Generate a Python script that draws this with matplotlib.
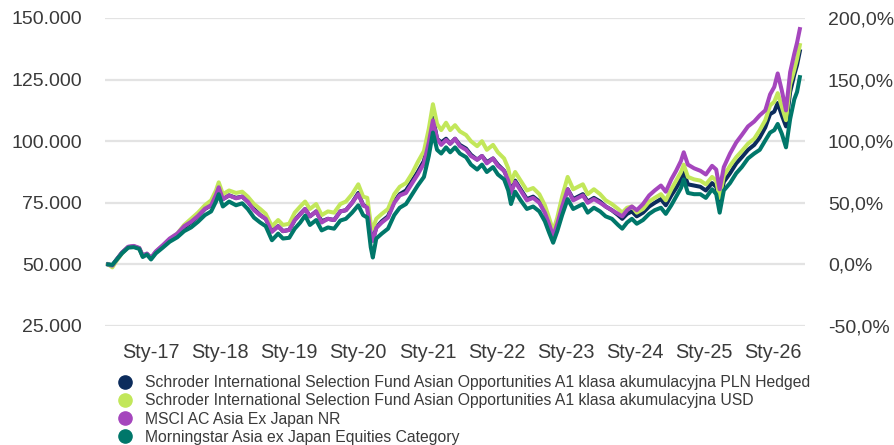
import matplotlib
matplotlib.use("Agg")
import matplotlib.pyplot as plt
from matplotlib.lines import Line2D
from matplotlib.ticker import FuncFormatter

# ---- data ----
years = [2016.38, 2016.44, 2016.49, 2016.58, 2016.67, 2016.75, 2016.83, 2016.88, 2016.94, 2017.00,
         2017.07, 2017.17, 2017.27, 2017.38, 2017.48, 2017.58, 2017.68, 2017.78, 2017.87, 2017.94,
         2017.98, 2018.04, 2018.13, 2018.23, 2018.32, 2018.40, 2018.49, 2018.58, 2018.66, 2018.75,
         2018.84, 2018.91, 2019.00, 2019.08, 2019.16, 2019.23, 2019.30, 2019.39, 2019.47, 2019.56,
         2019.65, 2019.74, 2019.82, 2019.91, 2020.00, 2020.07, 2020.13, 2020.18, 2020.21, 2020.26,
         2020.34, 2020.43, 2020.52, 2020.60, 2020.69, 2020.78, 2020.86, 2020.95, 2021.02, 2021.08,
         2021.14, 2021.20, 2021.27, 2021.33, 2021.40, 2021.47, 2021.56, 2021.63, 2021.72, 2021.79,
         2021.86, 2021.95, 2022.02, 2022.11, 2022.17, 2022.21, 2022.27, 2022.35, 2022.44, 2022.53,
         2022.62, 2022.70, 2022.76, 2022.82, 2022.88, 2022.95, 2023.03, 2023.11, 2023.18, 2023.25,
         2023.32, 2023.41, 2023.50, 2023.58, 2023.67, 2023.76, 2023.82, 2023.89, 2023.96, 2024.03,
         2024.12, 2024.21, 2024.29, 2024.38, 2024.45, 2024.53, 2024.60, 2024.67, 2024.71, 2024.77,
         2024.86, 2024.95, 2025.03, 2025.12, 2025.18, 2025.23, 2025.29, 2025.38, 2025.47, 2025.55,
         2025.64, 2025.73, 2025.81, 2025.89, 2025.96, 2026.02, 2026.07, 2026.13, 2026.19, 2026.25,
         2026.31, 2026.35, 2026.39]

morningstar = [50000, 49800, 51500, 54500, 56800, 57000, 56300, 53000, 54000, 52000,
               54500, 56800, 59200, 61000, 63500, 65000, 67300, 70000, 71500, 75500,
               78500, 73500, 75500, 74000, 74800, 72500, 69000, 67000, 65500, 59800,
               62500, 60500, 60800, 64500, 67000, 69800, 66000, 68000, 63800, 65000,
               64500, 67800, 68500, 71000, 74000, 70000, 69000, 57000, 52800, 60500,
               62500, 64500, 70000, 73000, 74500, 78500, 82000, 85500, 94000, 103500,
               96500, 95000, 97500, 95500, 97500, 95000, 93500, 90500, 88500, 90500,
               87500, 89500, 86500, 84500, 80000, 74500, 79500, 76000, 72500, 73500,
               71500, 67500, 63000, 58800, 63500, 70000, 76500, 72500, 73500, 74500,
               71000, 73000, 71500, 69500, 68500, 66000, 64500, 67000, 68500, 66500,
               68000, 70500, 72000, 73000, 70500, 74000, 77500, 81000, 84500, 79000,
               78500, 78500, 77000, 80500, 78500, 71000, 80000, 83000, 87000, 89500,
               93000, 95000, 96500, 100300, 103500, 104500, 107000, 103000, 97500, 109000,
               117000, 120000, 126000]

fund_pln = [50000, 49600, 51500, 54800, 57000, 57300, 56500, 53500, 54300, 52500,
            55000, 57500, 60000, 62000, 65000, 67000, 69500, 72500, 74000, 78000,
            81000, 76500, 78000, 77000, 77500, 75500, 72500, 70000, 68500, 63500,
            65500, 63500, 64000, 68000, 70500, 72500, 69500, 71500, 67500, 68500,
            68000, 71500, 72000, 75000, 79000, 74000, 73500, 62000, 60000, 65000,
            67500, 69500, 75500, 78500, 80000, 84000, 87500, 92000, 100500, 109500,
            101000, 99500, 101000, 99000, 101000, 98500, 97000, 94500, 92500, 94000,
            91500, 93000, 90500, 88000, 84500, 79500, 84000, 80500, 76500, 77500,
            75500, 71500, 67000, 62000, 67000, 74000, 80500, 76500, 77500, 78500,
            75500, 77000, 75500, 73500, 72000, 70000, 68500, 70500, 71500, 69500,
            71000, 73500, 75000, 76500, 74000, 78000, 81000, 84500, 87500, 82500,
            82000, 81500, 80000, 83000, 81500, 75000, 83500, 87000, 91000, 93500,
            96500, 98500, 101500, 105600, 111000, 112000, 115500, 110500, 106000, 120000,
            127000, 131000, 136500]

fund_usd = [50000, 48800, 51000, 54500, 57000, 57300, 56500, 53300, 54200, 52500,
            55000, 57500, 60200, 62500, 66000, 68500, 71000, 74000, 76000, 80000,
            83300, 78500, 80000, 79000, 79500, 77500, 74500, 72500, 70500, 65500,
            68000, 66000, 66500, 71000, 73500, 75500, 72500, 74500, 70000, 71500,
            71000, 74500, 75500, 78500, 82500, 77500, 77000, 66500, 64500, 68500,
            70500, 72500, 78500, 81500, 83000, 87000, 91500, 96000, 105000, 115000,
            107000, 104500, 107500, 104500, 106500, 104000, 102500, 100000, 98000, 100000,
            96500, 98500, 95500, 93000, 89000, 83500, 87500, 84000, 80000, 81000,
            78500, 74000, 69000, 63500, 69000, 77500, 85500, 80500, 81500, 82500,
            78500, 80500, 78500, 76000, 74500, 72500, 71000, 73000, 73500, 71000,
            72500, 75500, 77000, 78500, 76000, 80500, 84000, 87500, 90500, 85500,
            84500, 84000, 82500, 85500, 84000, 77000, 86000, 90000, 93500, 96000,
            99000, 101000, 104500, 108500, 114500, 116000, 119500, 114000, 108500, 123000,
            129000, 133500, 139000]

msci = [50000, 49500, 51500, 54800, 57200, 57500, 56700, 53500, 54400, 52700,
        55300, 57800, 60500, 62500, 65500, 67300, 69700, 72600, 74000, 78200,
        81300, 76500, 78000, 76800, 77500, 75500, 72000, 70000, 68500, 63200,
        65500, 63500, 64000, 68000, 70300, 72500, 69500, 71500, 67000, 68500,
        68000, 71500, 72000, 75000, 78500, 74000, 73000, 62000, 59500, 64800,
        67000, 69000, 75000, 78000, 79000, 83000, 86500, 91000, 99500, 108500,
        101000, 98500, 100500, 99000, 101000, 98000, 96500, 94000, 92500, 94000,
        91000, 93000, 90000, 88000, 84000, 79000, 83500, 80000, 76000, 77000,
        75000, 71000, 66500, 61500, 66500, 73500, 80500, 76000, 77000, 78000,
        75000, 76500, 75000, 73500, 72000, 70500, 69500, 72000, 73500, 72000,
        74500, 78000, 80000, 82000, 79500, 84500, 88000, 92000, 95500, 90500,
        89000, 88000, 86500, 90000, 88500, 80500, 89500, 95000, 99500, 102500,
        106000, 108000, 110500, 112500, 119000, 122000, 127500, 120500, 112500, 128000,
        135500, 140000, 145500]

series_names = [
    "Schroder International Selection Fund Asian Opportunities A1 klasa akumulacyjna PLN Hedged",
    "Schroder International Selection Fund Asian Opportunities A1 klasa akumulacyjna USD",
    "MSCI AC Asia Ex Japan NR",
    "Morningstar Asia ex Japan Equities Category",
]
series_values = [fund_pln, fund_usd, msci, morningstar]
series_colors = ["#0c2c5c", "#c2e75a", "#a546bd", "#00776a"]

tick_years = [2017, 2018, 2019, 2020, 2021, 2022, 2023, 2024, 2025, 2026]
tick_labels = ["Sty-17", "Sty-18", "Sty-19", "Sty-20", "Sty-21",
               "Sty-22", "Sty-23", "Sty-24", "Sty-25", "Sty-26"]
left_ticks = [25000, 50000, 75000, 100000, 125000, 150000]
right_ticks = [-50, 0, 50, 100, 150, 200]

# ---- figure ----
plt.rcParams["font.family"] = ["Liberation Sans", "DejaVu Sans"]
text_color = "#3a3a3a"

W, H = 895, 445
fig = plt.figure(figsize=(W / 100, H / 100), dpi=100)
ax = fig.add_axes([105 / W, 1 - 326 / H, (805 - 105) / W, (326 - 18) / H])

for vals, col in zip(series_values, series_colors):
    ax.plot(years, vals, color=col, lw=2.9, solid_joinstyle="round", zorder=3)

ax.set_ylim(25000, 150000)
ax.set_xlim(2016.334, 2026.465)
ax.set_yticks(left_ticks)
ax.yaxis.set_major_formatter(FuncFormatter(lambda v, p: f"{int(v):,}".replace(",", ".")))
ax.set_xticks(tick_years)
ax.set_xticklabels(tick_labels)
ax.grid(axis="y", color="#e3e3e3", lw=1.6, zorder=0)
ax.grid(axis="x", visible=False)
for s in ax.spines.values():
    s.set_visible(False)
ax.tick_params(axis="both", length=0, colors=text_color)
ax.tick_params(axis="y", pad=16.5, labelsize=14)
ax.tick_params(axis="x", pad=12, labelsize=14.3)

ax2 = ax.twinx()
ax2.set_ylim(-50, 200)
ax2.set_yticks(right_ticks)
ax2.yaxis.set_major_formatter(FuncFormatter(lambda v, p: f"{v:.1f}%".replace(".", ",")))
for s in ax2.spines.values():
    s.set_visible(False)
ax2.tick_params(axis="y", length=0, labelsize=14, colors=text_color, pad=16.5)

handles = [Line2D([0], [0], marker="o", color="none", markerfacecolor=c,
                  markeredgecolor=c, markersize=9.5) for c in series_colors]
fig.legend(handles, series_names, loc="upper left",
           bbox_to_anchor=(117 / W, 1 - 375 / H), frameon=False,
           fontsize=11.3, labelcolor=text_color, handlelength=1.0,
           handletextpad=0.8, labelspacing=0.21, borderaxespad=0, borderpad=0)

fig.savefig("out.png", dpi=100)
